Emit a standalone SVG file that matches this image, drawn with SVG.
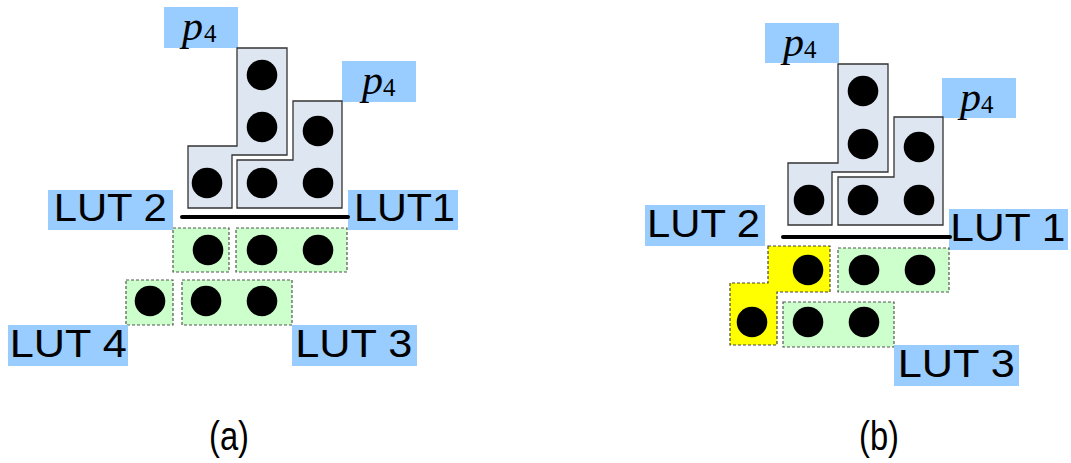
<svg xmlns="http://www.w3.org/2000/svg" width="1071" height="463" viewBox="0 0 1071 463">
  <style>
    .lbl { fill: #99ccff; }
    .lut { font-family: "Liberation Sans", Arial, sans-serif; font-size: 39px; fill: #000; }
    .cap { font-family: "Liberation Sans", Arial, sans-serif; font-size: 40px; fill: #000; }
    .pv { font-family: "Liberation Serif", "Times New Roman", serif; font-style: italic; font-size: 42px; fill: #000; }
    .ps { font-family: "Liberation Serif", "Times New Roman", serif; font-size: 25px; fill: #000; }
    .blk { fill: #dee6f1; stroke: #333; stroke-width: 1.3; }
    .grn { fill: #ccffcc; stroke: #555; stroke-width: 1.2; stroke-dasharray: 3 2; }
    .yel { fill: #ffff00; stroke: #444; stroke-width: 1.2; stroke-dasharray: 3 2; }
    .dot { fill: #000; }
    .bar { stroke: #000; stroke-width: 4; stroke-linecap: round; }
  </style>
  <defs>
    <circle id="d" r="15.3" class="dot"/>
  </defs>

  <!-- ===== panel (a) ===== -->
  <g id="a-p4-left">
    <rect class="lbl" x="164" y="7" width="74" height="41"/>
    <text class="pv" x="182" y="40">p</text>
    <text class="ps" x="204" y="42">4</text>
  </g>
  <g id="a-p4-right">
    <rect class="lbl" x="342" y="61" width="74" height="41"/>
    <text class="pv" x="362" y="94">p</text>
    <text class="ps" x="383" y="96">4</text>
  </g>
  <g id="a-block-tall">
    <polygon class="blk" points="237,48 287,48 287,155 232,155 232,208 188,208 188,146 237,146"/>
    <use href="#d" x="262" y="75"/>
    <use href="#d" x="262" y="127"/>
    <use href="#d" x="207" y="183"/>
  </g>
  <g id="a-block-step">
    <polygon class="blk" points="293,101 342,101 342,208 237,208 237,160 293,160"/>
    <use href="#d" x="318" y="131"/>
    <use href="#d" x="262" y="183"/>
    <use href="#d" x="318" y="183"/>
  </g>
  <g id="a-lut2-label">
    <rect class="lbl" x="48" y="190" width="125" height="40"/>
    <text class="lut" x="53.7" y="221" textLength="113" lengthAdjust="spacingAndGlyphs">LUT 2</text>
  </g>
  <g id="a-lut1-label">
    <rect class="lbl" x="348" y="190" width="110" height="40"/>
    <text class="lut" x="354" y="221" textLength="101" lengthAdjust="spacingAndGlyphs">LUT1</text>
  </g>
  <g id="a-lut2-cell">
    <rect class="grn" x="173" y="228" width="56" height="44"/>
    <use href="#d" x="208" y="250"/>
  </g>
  <g id="a-lut1-cells">
    <rect class="grn" x="236" y="228" width="111" height="44"/>
    <use href="#d" x="262" y="250"/>
    <use href="#d" x="318" y="250"/>
  </g>
  <g id="a-lut4-cell">
    <rect class="grn" x="126" y="280" width="47" height="45"/>
    <use href="#d" x="150" y="301"/>
  </g>
  <g id="a-lut3-cells">
    <rect class="grn" x="182" y="280" width="110" height="45"/>
    <use href="#d" x="206" y="301"/>
    <use href="#d" x="262" y="301"/>
  </g>
  <g id="a-lut4-label">
    <rect class="lbl" x="8" y="325" width="120" height="41"/>
    <text class="lut" x="9.7" y="357" textLength="117" lengthAdjust="spacingAndGlyphs">LUT 4</text>
  </g>
  <g id="a-lut3-label">
    <rect class="lbl" x="292" y="325" width="125" height="41"/>
    <text class="lut" x="295.3" y="357" textLength="117" lengthAdjust="spacingAndGlyphs">LUT 3</text>
  </g>
  <g id="a-caption">
    <text class="cap" x="229" y="450" text-anchor="middle" textLength="40" lengthAdjust="spacingAndGlyphs">(a)</text>
  </g>

  <!-- ===== panel (b) ===== -->
  <g id="b-p4-left">
    <rect class="lbl" x="765" y="23" width="74" height="40"/>
    <text class="pv" x="783" y="56">p</text>
    <text class="ps" x="804" y="58">4</text>
  </g>
  <g id="b-p4-right">
    <rect class="lbl" x="942" y="78" width="74" height="40"/>
    <text class="pv" x="960" y="111">p</text>
    <text class="ps" x="981" y="113">4</text>
  </g>
  <g id="b-block-tall">
    <polygon class="blk" points="838,64 888,64 888,172 832,172 832,225 788,225 788,163 838,163"/>
    <use href="#d" x="863" y="91"/>
    <use href="#d" x="863" y="144"/>
    <use href="#d" x="809" y="200"/>
  </g>
  <g id="b-block-step">
    <polygon class="blk" points="894,117 943,117 943,225 838,225 838,177 894,177"/>
    <use href="#d" x="919" y="147"/>
    <use href="#d" x="863" y="200"/>
    <use href="#d" x="919" y="200"/>
  </g>
  <g id="b-lut2-label">
    <rect class="lbl" x="645" y="205" width="120" height="41"/>
    <text class="lut" x="647" y="237" textLength="113" lengthAdjust="spacingAndGlyphs">LUT 2</text>
  </g>
  <g id="b-lut1-label">
    <rect class="lbl" x="949" y="209" width="119" height="41"/>
    <text class="lut" x="950.3" y="241" textLength="115" lengthAdjust="spacingAndGlyphs">LUT 1</text>
  </g>
  <g id="b-lut2-cells">
    <polygon class="yel" points="768,246 830,246 830,292 777,292 777,345 730,345 730,283 768,283"/>
    <use href="#d" x="808" y="270"/>
    <use href="#d" x="752" y="322"/>
  </g>
  <g id="b-lut1-cells">
    <rect class="grn" x="838" y="248" width="111" height="44"/>
    <use href="#d" x="864" y="270"/>
    <use href="#d" x="920" y="270"/>
  </g>
  <g id="b-lut3-cells">
    <rect class="grn" x="783" y="302" width="111" height="45"/>
    <use href="#d" x="808" y="322"/>
    <use href="#d" x="864" y="322"/>
  </g>
  <g id="b-lut3-label">
    <rect class="lbl" x="894" y="345" width="125" height="41"/>
    <text class="lut" x="897.7" y="377" textLength="117" lengthAdjust="spacingAndGlyphs">LUT 3</text>
  </g>
  <g id="b-caption">
    <text class="cap" x="879" y="450" text-anchor="middle" textLength="40" lengthAdjust="spacingAndGlyphs">(b)</text>
  </g>

  <!-- separator bars between the upper blocks and the LUT rows -->
  <g id="connectors">
    <line class="bar" x1="182" y1="217" x2="348" y2="217"/>
    <line class="bar" x1="783" y1="237" x2="950" y2="237"/>
  </g>
</svg>
